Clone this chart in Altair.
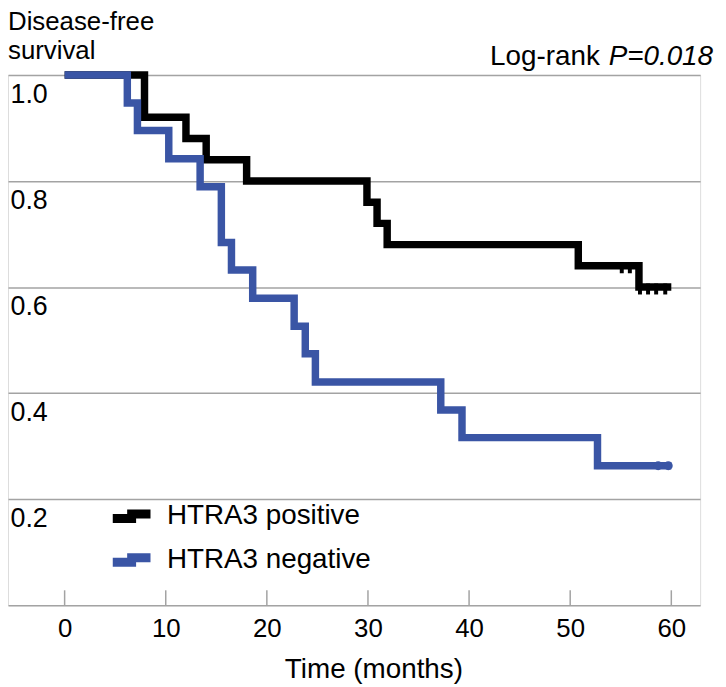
import altair as alt
import pandas as pd

# ---- data ----
groups = ["HTRA3 positive", "HTRA3 negative"]
colors = ["#000000", "#3a55a5"]

pos_time = [0, 7.9, 12.0, 14.0, 18.0, 29.9, 30.9, 31.9, 50.8, 56.8, 60]
pos_surv = [1.0, 0.92, 0.88, 0.84, 0.80, 0.76, 0.72, 0.68, 0.64, 0.60, 0.60]
neg_time = [0, 6.2, 7.2, 10.3, 13.4, 15.5, 16.5, 18.6, 22.7, 23.8, 24.8, 37.2, 39.3, 52.7, 60]
neg_surv = [1.0, 0.947, 0.895, 0.842, 0.789, 0.684, 0.632, 0.579, 0.526, 0.474, 0.421,
            0.368, 0.316, 0.263, 0.263]

pos_cens_time = [55.1, 55.9, 56.9, 57.7, 58.5, 59.4]
pos_cens_surv = [0.64, 0.64, 0.60, 0.60, 0.60, 0.60]
neg_cens_time = [58.7, 59.7]
neg_cens_surv = [0.263, 0.263]

x_ticks = [0, 10, 20, 30, 40, 50, 60]
y_ticks = [0.2, 0.4, 0.6, 0.8, 1.0]

title_lines = ["Disease-free", "survival"]
logrank_label = "Log-rank"
p_label = "P=0.018"
x_title = "Time (months)"

FONT = "Liberation Sans"
FS = 28
GRID = "#a3a3a3"

pos_df = pd.DataFrame({"time": pos_time, "surv": pos_surv, "group": groups[0]})
neg_df = pd.DataFrame({"time": neg_time, "surv": neg_surv, "group": groups[1]})
pos_c = pd.DataFrame({"time": pos_cens_time, "surv": pos_cens_surv})
neg_c = pd.DataFrame({"time": neg_cens_time, "surv": neg_cens_surv})
tick_df = pd.DataFrame({"time": x_ticks})

xscale = alt.Scale(domain=[-5.6, 62.85], nice=False, zero=False)
yscale = alt.Scale(domain=[0, 1], nice=False, zero=False)

X = alt.X("time:Q", scale=xscale, axis=alt.Axis(
    values=x_ticks, grid=False, ticks=False, tickSize=0,
    domainColor=GRID, domainWidth=1.5,
    labelFont=FONT, labelFontSize=26, labelColor="black",
    labelPadding=11, labelFlush=False,
    title=x_title, titleFont=FONT, titleFontSize=FS, titleFontWeight="normal",
    titleColor="black", titleX=368, titleY=73, titleBaseline="alphabetic",
    titleAlign="center"))

Y = alt.Y("surv:Q", scale=yscale, axis=alt.Axis(
    values=y_ticks, format=".1f", domain=False, ticks=False, tickSize=0,
    grid=True, gridColor=GRID, gridWidth=1.5,
    labelAlign="left", labelPadding=-2, labelOffset=20, labelBaseline="middle",
    labelFlush=False, labelFont=FONT, labelFontSize=27, labelColor="black",
    title=None))

color = alt.Color("group:N", scale=alt.Scale(domain=groups, range=colors),
                  legend=alt.Legend(
                      title=None, orient="none", legendX=101, legendY=421,
                      symbolType="M-1,0.12L0,0.12L0,-0.12L1,-0.12",
                      symbolSize=1444, symbolStrokeWidth=9,
                      symbolFillColor="transparent",
                      labelFont=FONT, labelFontSize=FS, labelColor="black",
                      labelLimit=400,
                      labelOffset=12, rowPadding=-5, padding=0))

line_pos = alt.Chart(pos_df).mark_line(
    interpolate="step-after", strokeWidth=7.5, strokeJoin="miter", strokeCap="butt"
).encode(x=X, y=Y, color=color)

line_neg = alt.Chart(neg_df).mark_line(
    interpolate="step-after", strokeWidth=7.5, strokeJoin="miter", strokeCap="butt"
).encode(x=X, y=Y, color=color)

cens_pos = alt.Chart(pos_c).mark_tick(
    orient="vertical", size=11, thickness=4, yOffset=2, color="black", opacity=1
).encode(x="time:Q", y="surv:Q")

cens_neg = alt.Chart(neg_c).mark_circle(
    size=80, color=colors[1], opacity=1
).encode(x="time:Q", y="surv:Q")

xticks = alt.Chart(tick_df).mark_rule(color=GRID, strokeWidth=1.5).encode(
    x="time:Q", y=alt.value(519), y2=alt.value(534))

t1 = alt.Chart(pd.DataFrame({"label": [title_lines[0]]})).mark_text(
    font=FONT, fontSize=26, align="left", baseline="alphabetic", color="black"
).encode(x=alt.value(0), y=alt.value(-45), text="label:N")
t2 = alt.Chart(pd.DataFrame({"label": [title_lines[1]]})).mark_text(
    font=FONT, fontSize=26, align="left", baseline="alphabetic", color="black"
).encode(x=alt.value(0), y=alt.value(-16), text="label:N")

lr = alt.Chart(pd.DataFrame({"label": [logrank_label]})).mark_text(
    font=FONT, fontSize=FS, align="right", baseline="alphabetic", color="black"
).encode(x=alt.value(596), y=alt.value(-10), text="label:N")
pv = alt.Chart(pd.DataFrame({"label": [p_label]})).mark_text(
    font=FONT, fontSize=FS, fontStyle="italic", align="right",
    baseline="alphabetic", color="black"
).encode(x=alt.value(710), y=alt.value(-10), text="label:N")

chart = alt.layer(
    xticks, line_pos, line_neg, cens_pos, cens_neg, t1, t2, lr, pv
).properties(
    width=697, height=534,
    autosize=alt.AutoSizeParams(type="none"),
    padding={"left": 0, "top": 65, "right": 18, "bottom": 80},
).configure_view(strokeWidth=0).configure(font=FONT)

chart.save("out.html", embed_options={"renderer": "svg", "actions": False})
